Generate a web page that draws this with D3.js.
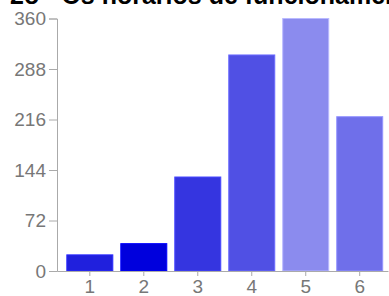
<!DOCTYPE html>
<html>
<head>
<meta charset="utf-8">
<script src="https://d3js.org/d3.v7.min.js"></script>
<style>
  body { margin: 0; background: #fff; }
  .axis path, .axis line { stroke: #aaa; }
  .axis text { fill: #777; font-family: "Liberation Sans", Arial, sans-serif; font-size: 19px; }
</style>
</head>
<body>
<script>
var categories = ["1", "2", "3", "4", "5", "6"];
var values = [23, 39, 134, 308, 360, 220];
var colors = ["#2020dd", "#0000dd", "#3535e0", "#5050e4", "#8b8bee", "#6f6fea"];
var yTicks = [0, 72, 144, 216, 288, 360];
var title = "2o - Os horários de funcionamento são adequados?";

var width = 389, height = 296;
var margin = {top: 18.5, right: 1, bottom: 25, left: 57};

var svg = d3.select("body").append("svg")
    .attr("width", width)
    .attr("height", height);

svg.append("text")
    .attr("x", 10)
    .attr("y", 4)
    .attr("font-family", "Liberation Sans, Arial, sans-serif")
    .attr("font-weight", "bold")
    .attr("font-size", 25)
    .attr("fill", "#000")
    .text(title);

var x = d3.scaleBand()
    .domain(categories)
    .range([margin.left, width - margin.right])
    .paddingInner(0.148)
    .paddingOuter(0.14)
    .align(0.65);

var y = d3.scaleLinear()
    .domain([0, 360])
    .range([height - margin.bottom, margin.top]);

svg.selectAll(".bar")
    .data(values)
    .enter().append("rect")
    .attr("class", "bar")
    .attr("x", function (d, i) { return x(categories[i]); })
    .attr("y", function (d) { return y(d); })
    .attr("width", x.bandwidth())
    .attr("height", function (d) { return y(0) - y(d); })
    .attr("fill", function (d, i) { return colors[i]; })
    .attr("stroke", function (d, i) { return d3.color(colors[i]).brighter(0.8); })
    .attr("stroke-width", 1);

svg.append("g")
    .attr("class", "axis")
    .attr("transform", "translate(" + margin.left + ",0)")
    .call(d3.axisLeft(y).tickValues(yTicks).tickSize(8).tickSizeOuter(8).tickPadding(3));

svg.append("g")
    .attr("class", "axis")
    .attr("transform", "translate(0," + (height - margin.bottom) + ")")
    .call(d3.axisBottom(x).tickSize(5).tickSizeOuter(0).tickPadding(4));
</script>
</body>
</html>
